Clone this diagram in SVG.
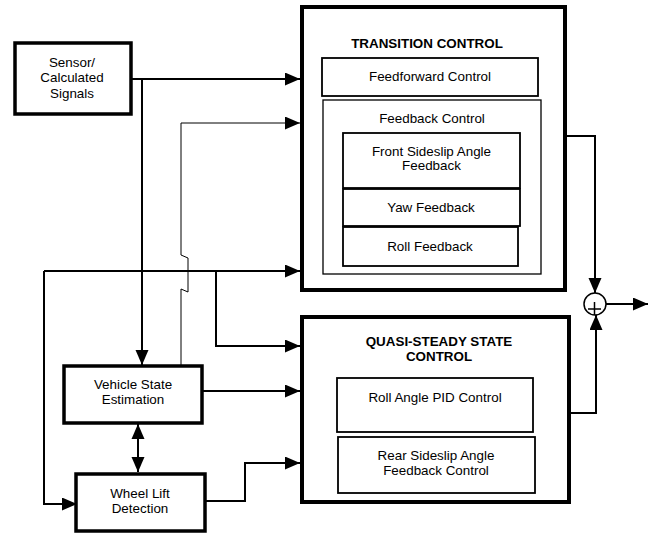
<svg xmlns="http://www.w3.org/2000/svg" width="650" height="533" viewBox="0 0 650 533">
<style>
.t{font-family:"Liberation Sans",Arial,sans-serif;font-size:13.4px;fill:#000;text-anchor:middle}
.b{font-weight:bold}
.box{fill:#fff;stroke:#000}
.c{fill:none;stroke:#000;stroke-width:2}
.thin{fill:none;stroke:#000;stroke-width:1}
</style>
<defs>
<marker id="ah" markerUnits="userSpaceOnUse" markerWidth="16" markerHeight="14" refX="15" refY="6.5" orient="auto">
<path d="M0,0 L15,6.5 L0,13 z" fill="#000"/>
</marker>
<marker id="ahs" markerUnits="userSpaceOnUse" markerWidth="16" markerHeight="14" refX="0" refY="6.5" orient="auto">
<path d="M15,0 L0,6.5 L15,13 z" fill="#000"/>
</marker>
</defs>
<g id="connectors">
<path class="c" d="M132,79 H300" marker-end="url(#ah)"/>
<path class="c" d="M142,79 V365" marker-end="url(#ah)"/>
<path class="thin" d="M181,365 V289 L188,292 V258 L181,255 V123 H300" marker-end="url(#ah)"/>
<path class="c" d="M44,271 H300" marker-end="url(#ah)"/>
<path class="c" d="M44,271 V504 H77" marker-end="url(#ah)"/>
<path class="c" d="M216,270 V346 H300" marker-end="url(#ah)"/>
<path class="c" d="M202,391 H300" marker-end="url(#ah)"/>
<path class="c" d="M205,501 H245 V463 H300" marker-end="url(#ah)"/>
<path class="c" d="M138,424 V472" marker-start="url(#ahs)" marker-end="url(#ah)"/>
<path class="c" d="M565,136 H595 V293" marker-end="url(#ah)"/>
<path class="c" d="M571,413 H596 V315" marker-end="url(#ah)"/>
<path class="c" d="M606,304 H648" marker-end="url(#ah)"/>
</g>
<g id="sensor">
<rect class="box" x="15" y="43" width="116" height="71" stroke-width="3.5"/>
<text class="t" x="72" y="66.5">Sensor/</text>
<text class="t" x="72" y="82">Calculated</text>
<text class="t" x="72" y="97.5">Signals</text>
</g>
<g id="vse">
<rect class="box" x="64" y="366" width="138" height="57" stroke-width="3.5"/>
<text class="t" x="133" y="388.5">Vehicle State</text>
<text class="t" x="133" y="403.5">Estimation</text>
</g>
<g id="wld">
<rect class="box" x="76" y="474" width="129" height="57" stroke-width="3.5"/>
<text class="t" x="140" y="497.5">Wheel Lift</text>
<text class="t" x="140" y="512.5">Detection</text>
</g>
<g id="transition">
<rect class="box" x="302" y="7" width="263" height="283" stroke-width="4"/>
<text class="t b" x="427" y="47.5">TRANSITION CONTROL</text>
</g>
<g id="feedforward">
<rect class="box" x="322" y="58" width="216" height="38" stroke-width="1.8"/>
<text class="t" x="430" y="80.5">Feedforward Control</text>
</g>
<g id="feedback">
<rect class="box" x="323" y="100" width="218" height="174" stroke-width="1.3"/>
<text class="t" x="432" y="122.5">Feedback Control</text>
</g>
<g id="front">
<rect class="box" x="343" y="133" width="177" height="55" stroke-width="1.8"/>
<text class="t" x="431.5" y="155.5">Front Sideslip Angle</text>
<text class="t" x="431.5" y="169.5">Feedback</text>
</g>
<g id="yaw">
<rect class="box" x="343" y="189" width="177" height="37" stroke-width="1.8"/>
<text class="t" x="431" y="211.5">Yaw Feedback</text>
</g>
<g id="roll">
<rect class="box" x="343" y="227" width="175" height="39" stroke-width="1.8"/>
<text class="t" x="430" y="250.5">Roll Feedback</text>
</g>
<g id="qss">
<rect class="box" x="302" y="317" width="267" height="185" stroke-width="4"/>
<text class="t b" x="439" y="345.5">QUASI-STEADY STATE</text>
<text class="t b" x="439" y="360.5">CONTROL</text>
</g>
<g id="rollpid">
<rect class="box" x="337" y="378" width="196" height="54" stroke-width="1.8"/>
<text class="t" x="435" y="401.5">Roll Angle PID Control</text>
</g>
<g id="rear">
<rect class="box" x="338" y="437" width="197" height="56" stroke-width="1.8"/>
<text class="t" x="436" y="459.5">Rear Sideslip Angle</text>
<text class="t" x="436" y="474.5">Feedback Control</text>
</g>
<g id="sum">
<circle cx="595" cy="304" r="11" fill="#fff" stroke="#000" stroke-width="1.5"/>
<path d="M588,309 H601 M594.5,302 V315" stroke="#000" stroke-width="1.5" fill="none"/>
</g>
</svg>
